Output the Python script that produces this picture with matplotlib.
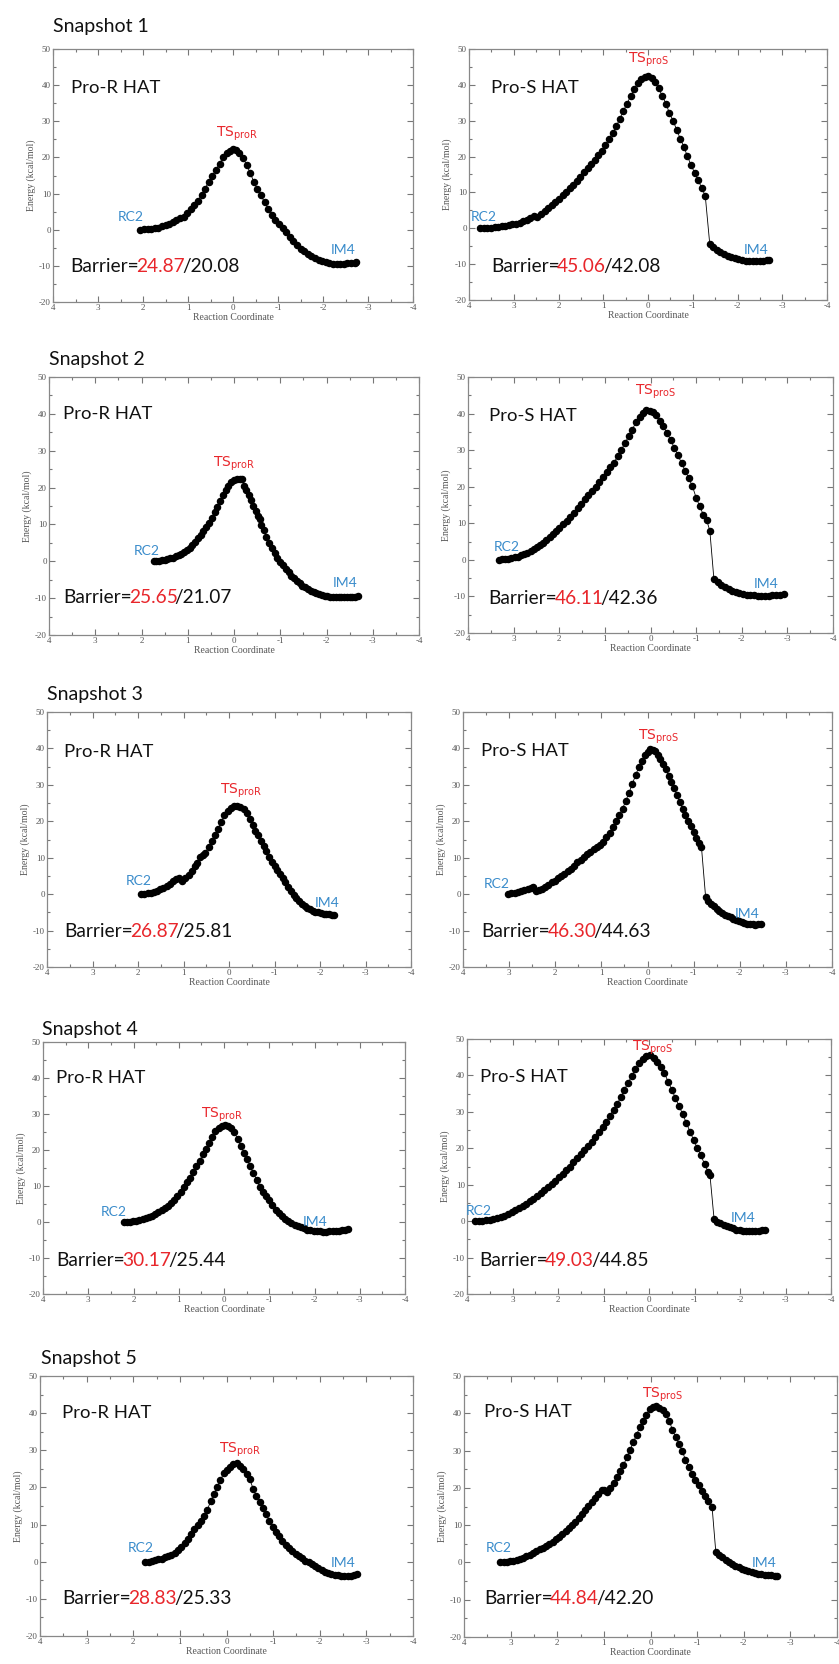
import matplotlib
matplotlib.use("Agg")
import matplotlib.pyplot as plt
from matplotlib.ticker import MultipleLocator

W, H = 839, 1664
plt.rcParams['axes.unicode_minus'] = False
plt.rcParams['mathtext.fontset'] = 'custom'
plt.rcParams['mathtext.rm'] = 'Lato'
plt.rcParams['mathtext.default'] = 'rm'

LABEL_FONT = 'Lato'
AXIS_FONT = 'Liberation Serif'
RED = '#e8262b'
BLUE = '#3a8ccb'
GREY = '#555555'

# ---------------- energy profiles (reaction coordinate, kcal/mol) ----------------
s1_r_x = [2.07, 1.98, 1.9, 1.82, 1.74, 1.66, 1.58, 1.5, 1.42, 1.34, 1.26, 1.18, 1.1, 1.02, 0.94, 0.86,
          0.78, 0.7, 0.62, 0.54, 0.46, 0.38, 0.3, 0.22, 0.14, 0.06, 0.0, -0.06, -0.14, -0.22, -0.3,
          -0.38, -0.46, -0.54, -0.62, -0.7, -0.78, -0.86, -0.94, -1.02, -1.1, -1.18, -1.26, -1.34,
          -1.42, -1.5, -1.58, -1.66, -1.74, -1.82, -1.9, -1.98, -2.06, -2.14, -2.22, -2.3, -2.38,
          -2.46, -2.54, -2.62, -2.7, -2.74]
s1_r_y = [0, 0.1, 0.2, 0.3, 0.5, 0.6, 0.9, 1.2, 1.6, 2.1, 2.6, 3.2, 3.5, 4.5, 5.8, 6.9,
          7.9, 9.7, 11.4, 13.3, 14.9, 16.5, 18.3, 20.0, 21.1, 21.9, 22.2, 22.0, 21.3, 19.9, 18.0,
          15.8, 13.3, 11.2, 9.5, 7.6, 5.8, 4.2, 2.8, 1.6, 0.4, -0.6, -2.0, -3.2,
          -4.3, -5.2, -6.0, -6.7, -7.3, -7.9, -8.3, -8.7, -9.0, -9.2, -9.4, -9.4, -9.4,
          -9.35, -9.3, -9.2, -9.1, -9.0]

s1_s_x = [3.75, 3.67, 3.59, 3.51, 3.43, 3.35, 3.27, 3.19, 3.11, 3.03, 2.95, 2.87, 2.79, 2.71, 2.63,
          2.55, 2.47, 2.39, 2.31, 2.23, 2.15, 2.07, 1.99, 1.91, 1.83, 1.75, 1.67, 1.59, 1.51, 1.43,
          1.35, 1.27, 1.19, 1.11, 1.03, 0.95, 0.87, 0.79, 0.71, 0.63, 0.55, 0.47, 0.39, 0.31, 0.23,
          0.15, 0.07, 0.0, -0.08, -0.16, -0.24, -0.32, -0.4, -0.48, -0.56, -0.64, -0.72, -0.8, -0.88,
          -0.96, -1.04, -1.12, -1.2, -1.28, -1.38, -1.46, -1.54, -1.62, -1.7, -1.78, -1.86, -1.94,
          -2.02, -2.1, -2.18, -2.26, -2.34, -2.42, -2.5, -2.58, -2.66, -2.71]
s1_s_y = [0, 0.05, 0.1, 0.2, 0.3, 0.4, 0.5, 0.7, 0.9, 1.1, 1.3, 1.6, 2.0, 2.4, 3.0,
          3.3, 3.2, 4.0, 4.8, 5.6, 6.5, 7.4, 8.3, 9.2, 10.2, 11.2, 12.2, 13.3, 14.4, 15.6,
          16.8, 17.9, 19.1, 20.4, 21.6, 23.2, 24.9, 26.6, 28.4, 30.6, 32.7, 34.8, 36.8, 38.8, 40.5,
          41.5, 42.2, 42.4, 41.8, 40.8, 39.0, 36.9, 34.8, 32.1, 30.0, 27.5, 25.0, 22.8, 20.1,
          17.7, 15.5, 13.4, 11.3, 9.0, -4.4, -5.3, -6.1, -6.7, -7.2, -7.7, -8.1, -8.4,
          -8.7, -8.9, -9.0, -9.1, -9.1, -9.1, -9.1, -9.0, -8.9, -8.8]

s2_r_x = [1.74, 1.68, 1.62, 1.56, 1.5, 1.44, 1.38, 1.32, 1.26, 1.2, 1.14, 1.08, 1.02, 0.96, 0.9,
          0.84, 0.78, 0.72, 0.66, 0.6, 0.54, 0.48, 0.42, 0.36, 0.3, 0.24, 0.18, 0.12, 0.06, 0.0,
          -0.06, -0.12, -0.18, -0.22, -0.27, -0.32, -0.37, -0.42, -0.47, -0.52, -0.56, -0.59, -0.64,
          -0.7, -0.76, -0.82, -0.88, -0.94, -1.0, -1.06, -1.12, -1.18, -1.24, -1.3, -1.36, -1.42,
          -1.48, -1.54, -1.6, -1.66, -1.72, -1.78, -1.84, -1.9, -1.96, -2.02, -2.08, -2.14, -2.2,
          -2.26, -2.32, -2.38, -2.44, -2.5, -2.56, -2.62, -2.68]
s2_r_y = [0, 0.05, 0.15, 0.25, 0.4, 0.6, 0.8, 1.0, 1.3, 1.7, 2.1, 2.5, 3.0, 3.7, 4.5,
          5.3, 6.2, 7.2, 8.2, 9.2, 10.5, 11.8, 13.3, 14.7, 16.3, 17.9, 19.3, 20.5, 21.4, 22.0,
          22.3, 22.4, 22.4, 20.4, 19.3, 18.0, 16.5, 15.1, 13.7, 12.3, 11.5, 9.8, 8.4,
          6.6, 5.0, 3.6, 2.3, 1.0, -0.1, -1.1, -2.1, -3.0, -3.9, -4.6, -5.3, -6.0,
          -6.6, -7.1, -7.6, -8.0, -8.4, -8.7, -9.0, -9.2, -9.4, -9.5, -9.6, -9.7, -9.75,
          -9.8, -9.8, -9.8, -9.8, -9.75, -9.7, -9.6, -9.5]

s2_s_x = [3.33, 3.26, 3.19, 3.12, 3.05, 2.98, 2.91, 2.84, 2.77, 2.7, 2.63, 2.56, 2.49, 2.42, 2.35,
          2.28, 2.21, 2.14, 2.07, 2.0, 1.92, 1.84, 1.76, 1.68, 1.6, 1.52, 1.44, 1.36, 1.28, 1.2,
          1.12, 1.04, 0.96, 0.88, 0.8, 0.72, 0.64, 0.56, 0.48, 0.4, 0.32, 0.24, 0.16, 0.09, 0.02,
          -0.05, -0.12, -0.2, -0.28, -0.36, -0.44, -0.52, -0.6, -0.68, -0.76, -0.84, -0.92, -1.0,
          -1.08, -1.16, -1.23, -1.3, -1.39, -1.47, -1.55, -1.63, -1.71, -1.79, -1.87, -1.95, -2.03,
          -2.11, -2.19, -2.27, -2.35, -2.43, -2.51, -2.59, -2.67, -2.75, -2.83, -2.92]
s2_s_y = [0, 0.1, 0.2, 0.3, 0.5, 0.7, 0.9, 1.2, 1.6, 2.0, 2.4, 2.9, 3.4, 4.0, 4.7,
          5.4, 6.2, 7.0, 7.9, 8.8, 9.7, 10.7, 11.7, 12.9, 14.1, 15.4, 16.6, 17.7, 18.8, 20.0,
          21.3, 22.6, 24.0, 25.3, 26.6, 28.3, 30.1, 31.9, 33.8, 35.6, 37.6, 39.0, 40.1, 41.1, 40.8,
          40.3, 39.6, 38.1, 36.5, 34.7, 32.8, 30.7, 28.6, 26.5, 24.4, 22.3, 20.1, 17.0,
          14.6, 12.3, 10.9, 8.0, -5.3, -6.1, -6.9, -7.5, -8.0, -8.4, -8.8, -9.1, -9.3,
          -9.5, -9.6, -9.7, -9.8, -9.8, -9.8, -9.8, -9.7, -9.6, -9.5, -9.3]

s3_r_x = [1.93, 1.86, 1.79, 1.72, 1.65, 1.58, 1.51, 1.44, 1.37, 1.3, 1.23, 1.16, 1.1, 1.03, 0.96,
          0.89, 0.82, 0.75, 0.7, 0.64, 0.57, 0.52, 0.45, 0.38, 0.31, 0.24, 0.17, 0.1, 0.03, -0.04,
          -0.11, -0.18, -0.25, -0.32, -0.39, -0.46, -0.52, -0.58, -0.64, -0.7, -0.76, -0.82, -0.88,
          -0.94, -1.0, -1.06, -1.12, -1.18, -1.24, -1.3, -1.36, -1.42, -1.48, -1.54, -1.6, -1.66,
          -1.72, -1.78, -1.84, -1.9, -1.96, -2.02, -2.08, -2.14, -2.2, -2.26, -2.3]
s3_r_y = [0, 0.05, 0.2, 0.4, 0.7, 1.0, 1.4, 1.8, 2.3, 2.9, 3.5, 4.1, 4.3, 3.7, 4.5,
          5.3, 6.4, 7.6, 8.6, 10.3, 10.8, 11.3, 12.9, 14.6, 16.2, 18.0, 19.9, 21.6, 22.8, 23.6,
          24.1, 24.2, 23.9, 23.4, 22.4, 20.5, 19.0, 17.4, 16.1, 14.6, 13.2, 11.8, 10.2,
          8.9, 7.6, 6.5, 5.4, 4.3, 3.2, 2.0, 0.9, -0.2, -1.1, -2.0, -2.7, -3.3,
          -3.8, -4.2, -4.5, -4.8, -5.0, -5.2, -5.35, -5.5, -5.55, -5.6, -5.7]

s3_s_x = [3.02, 2.95, 2.88, 2.81, 2.74, 2.67, 2.6, 2.53, 2.48, 2.42, 2.36, 2.29, 2.22, 2.15, 2.08,
          2.01, 1.94, 1.87, 1.8, 1.73, 1.66, 1.59, 1.52, 1.45, 1.38, 1.31, 1.24, 1.17, 1.1, 1.03,
          0.96, 0.89, 0.82, 0.75, 0.68, 0.61, 0.54, 0.47, 0.4, 0.33, 0.26, 0.19, 0.12, 0.05, 0.0,
          -0.05, -0.11, -0.16, -0.22, -0.28, -0.34, -0.4, -0.46, -0.52, -0.58, -0.64, -0.7, -0.76,
          -0.82, -0.88, -0.94, -1.0, -1.06, -1.12, -1.17, -1.26, -1.32, -1.38, -1.44, -1.5, -1.56,
          -1.62, -1.68, -1.74, -1.8, -1.86, -1.92, -1.98, -2.04, -2.1, -2.16, -2.22, -2.28, -2.34,
          -2.4, -2.47]
s3_s_y = [0, 0.2, 0.4, 0.7, 0.9, 1.2, 1.5, 1.8, 2.0, 0.8, 1.1, 1.5, 2.0, 2.5, 3.2,
          3.7, 4.3, 4.9, 5.6, 6.3, 7.0, 7.8, 8.7, 9.4, 10.1, 10.9, 11.6, 12.3, 12.9, 13.5,
          14.4, 15.7, 16.9, 18.4, 20.0, 21.7, 23.5, 25.6, 27.9, 30.2, 32.6, 34.8, 36.6, 38.3, 39.0,
          39.8, 39.6, 39.2, 38.2, 37.1, 35.7, 34.3, 32.3, 30.7, 29.1, 27.1, 25.2, 23.4,
          21.8, 20.1, 18.6, 17.0, 15.4, 14.1, 12.9, -0.8, -1.8, -2.6, -3.3, -4.0, -4.6,
          -5.1, -5.6, -6.0, -6.4, -6.8, -7.1, -7.4, -7.7, -7.9, -8.1, -8.2, -8.3, -8.35,
          -8.3, -8.2]

s4_r_x = [2.22, 2.15, 2.08, 2.01, 1.94, 1.87, 1.8, 1.73, 1.66, 1.59, 1.52, 1.45, 1.38, 1.31, 1.24,
          1.17, 1.1, 1.03, 0.96, 0.89, 0.82, 0.75, 0.68, 0.61, 0.54, 0.47, 0.4, 0.33, 0.26, 0.19,
          0.12, 0.05, -0.02, -0.09, -0.16, -0.23, -0.3, -0.37, -0.44, -0.51, -0.58, -0.65, -0.72,
          -0.79, -0.86, -0.93, -1.0, -1.07, -1.14, -1.21, -1.28, -1.35, -1.42, -1.49, -1.56, -1.63,
          -1.7, -1.77, -1.84, -1.91, -1.98, -2.05, -2.12, -2.19, -2.26, -2.33, -2.4, -2.47, -2.54,
          -2.61, -2.68, -2.74]
s4_r_y = [0, 0.05, 0.1, 0.25, 0.4, 0.6, 0.8, 1.1, 1.4, 1.8, 2.2, 2.7, 3.2, 3.8, 4.5,
          5.3, 6.2, 7.3, 8.4, 9.7, 11.0, 12.3, 14.0, 15.5, 17.0, 18.8, 20.4, 22.0, 23.7, 25.2,
          26.2, 26.8, 27.0, 26.7, 26.0, 24.9, 23.1, 21.2, 19.3, 17.4, 15.5, 13.6, 11.7,
          9.8, 8.3, 7.2, 6.0, 4.6, 3.4, 2.4, 1.6, 0.9, 0.3, -0.2, -0.7, -1.1,
          -1.5, -1.8, -2.1, -2.3, -2.45, -2.55, -2.6, -2.65, -2.65, -2.6, -2.6, -2.5, -2.4,
          -2.2, -2.1, -1.9]

s4_s_x = [3.82, 3.74, 3.66, 3.58, 3.5, 3.42, 3.34, 3.26, 3.18, 3.1, 3.02, 2.94, 2.86, 2.78, 2.7,
          2.62, 2.54, 2.46, 2.38, 2.3, 2.22, 2.14, 2.06, 1.98, 1.9, 1.82, 1.74, 1.66, 1.58, 1.5,
          1.42, 1.34, 1.26, 1.18, 1.1, 1.02, 0.94, 0.86, 0.78, 0.7, 0.62, 0.54, 0.46, 0.38, 0.3,
          0.22, 0.14, 0.06, -0.02, -0.1, -0.18, -0.26, -0.34, -0.42, -0.5, -0.58, -0.66, -0.74,
          -0.82, -0.9, -0.98, -1.06, -1.14, -1.22, -1.3, -1.34, -1.43, -1.5, -1.57, -1.64, -1.71,
          -1.78, -1.85, -1.92, -1.99, -2.06, -2.13, -2.2, -2.27, -2.34, -2.41, -2.48, -2.55]
s4_s_y = [0, 0.05, 0.1, 0.2, 0.35, 0.5, 0.8, 1.1, 1.5, 1.9, 2.4, 3.0, 3.6, 4.2, 4.8,
          5.5, 6.2, 6.9, 7.7, 8.5, 9.3, 10.2, 11.1, 12.1, 13.0, 14.0, 15.0, 16.1, 17.2, 18.3,
          19.4, 20.6, 21.8, 23.0, 24.4, 25.8, 27.3, 28.9, 30.6, 32.2, 34.0, 36.1, 38.0, 39.8, 41.9,
          43.3, 44.6, 45.3, 45.5, 44.9, 43.6, 42.2, 40.6, 38.3, 36.1, 33.8, 31.6, 29.4,
          27.0, 24.6, 22.3, 20.1, 18.1, 15.7, 13.6, 12.6, 0.6, -0.1, -0.6, -1.0, -1.4,
          -1.7, -2.0, -2.3, -2.5, -2.6, -2.7, -2.7, -2.7, -2.7, -2.6, -2.5, -2.3]

s5_r_x = [1.74, 1.67, 1.6, 1.53, 1.46, 1.39, 1.32, 1.25, 1.18, 1.11, 1.04, 0.97, 0.9, 0.83, 0.76,
          0.69, 0.62, 0.55, 0.48, 0.41, 0.34, 0.27, 0.2, 0.13, 0.06, -0.01, -0.08, -0.15, -0.22,
          -0.29, -0.36, -0.43, -0.5, -0.57, -0.64, -0.71, -0.78, -0.85, -0.92, -0.99, -1.06, -1.13,
          -1.2, -1.27, -1.34, -1.41, -1.48, -1.55, -1.62, -1.69, -1.76, -1.83, -1.9, -1.97, -2.04,
          -2.11, -2.18, -2.25, -2.32, -2.39, -2.46, -2.53, -2.6, -2.67, -2.74, -2.8]
s5_r_y = [0, 0.05, 0.2, 0.4, 0.6, 0.8, 1.2, 1.5, 1.9, 2.4, 3.1, 4.0, 5.0, 6.1, 7.4,
          8.7, 10.0, 11.0, 12.3, 14.0, 16.3, 18.3, 20.2, 22.0, 23.8, 24.8, 25.6, 26.3, 26.5,
          25.9, 25.0, 23.7, 22.2, 19.7, 17.8, 16.0, 14.4, 12.8, 11.0, 9.4, 8.1, 6.9,
          5.7, 4.6, 3.7, 2.9, 2.2, 1.5, 0.9, 0.3, -0.2, -0.7, -1.2, -1.8, -2.3,
          -2.7, -3.0, -3.3, -3.5, -3.7, -3.8, -3.85, -3.85, -3.8, -3.6, -3.4]

s5_s_x = [3.22, 3.15, 3.08, 3.01, 2.94, 2.87, 2.8, 2.73, 2.66, 2.59, 2.52, 2.45, 2.38, 2.31, 2.24,
          2.17, 2.1, 2.03, 1.96, 1.89, 1.82, 1.75, 1.68, 1.61, 1.54, 1.47, 1.4, 1.33, 1.26, 1.19,
          1.12, 1.05, 1.0, 0.93, 0.86, 0.79, 0.72, 0.65, 0.58, 0.51, 0.44, 0.37, 0.3, 0.23, 0.16,
          0.09, 0.02, -0.05, -0.12, -0.19, -0.26, -0.33, -0.4, -0.47, -0.54, -0.61, -0.68, -0.75,
          -0.82, -0.89, -0.96, -1.03, -1.1, -1.17, -1.24, -1.32, -1.4, -1.47, -1.54, -1.61, -1.68,
          -1.75, -1.82, -1.89, -1.96, -2.03, -2.1, -2.17, -2.24, -2.31, -2.38, -2.45, -2.52, -2.59,
          -2.66, -2.71]
s5_s_y = [0, 0.05, 0.2, 0.3, 0.5, 0.7, 1.0, 1.3, 1.7, 2.1, 2.6, 3.0, 3.5, 4.0, 4.5,
          5.0, 5.6, 6.2, 6.9, 7.6, 8.4, 9.2, 10.0, 10.9, 11.9, 13.0, 14.0, 15.1, 16.2, 17.3,
          18.3, 19.4, 19.5, 18.8, 19.9, 21.4, 22.8, 24.4, 26.0, 28.2, 30.2, 32.2, 34.2, 36.3, 38.0,
          39.6, 41.1, 41.7, 41.9, 41.5, 40.8, 39.8, 38.0, 35.6, 33.6, 31.8, 29.8, 27.6,
          25.6, 23.8, 22.2, 20.8, 19.2, 17.9, 16.6, 15.0, 2.9, 2.1, 1.4, 0.7, 0.1,
          -0.5, -0.9, -1.3, -1.7, -2.1, -2.4, -2.7, -2.9, -3.1, -3.2, -3.3, -3.4, -3.5,
          -3.55, -3.6]

# barrier heights: first value in red, second value in black
barrier_first = [24.87, 45.06, 25.65, 46.11, 26.87, 46.30, 30.17, 49.03, 28.83, 44.84]
barrier_second = [20.08, 42.08, 21.07, 42.36, 25.81, 44.63, 25.44, 44.85, 25.33, 42.20]

snapshot_titles = ['Snapshot 1', 'Snapshot 2', 'Snapshot 3', 'Snapshot 4', 'Snapshot 5']
pathway_names = ['Pro-R HAT', 'Pro-S HAT']
ts_labels = [r'TS$_{\mathregular{proR}}$', r'TS$_{\mathregular{proS}}$']
x_ticks = [4, 3, 2, 1, 0, -1, -2, -3, -4]
y_ticks = [-20, -10, 0, 10, 20, 30, 40, 50]

curves = [(s1_r_x, s1_r_y), (s1_s_x, s1_s_y), (s2_r_x, s2_r_y), (s2_s_x, s2_s_y),
          (s3_r_x, s3_r_y), (s3_s_x, s3_s_y), (s4_r_x, s4_r_y), (s4_s_x, s4_s_y),
          (s5_r_x, s5_r_y), (s5_s_x, s5_s_y)]

# ---------------- layout (pixel boxes: left, top, right, bottom) ----------------
boxes = [(53, 49, 413, 302), (469, 49, 827, 300),
         (49, 377, 419, 635), (468, 377, 833, 633),
         (47, 712, 411, 967), (463, 712, 832, 967),
         (43, 1042, 405, 1294), (467, 1039, 831, 1294),
         (40, 1376, 413, 1636), (464, 1376, 837, 1637)]
title_pos = [(53, 32), (49, 365), (47, 700), (42, 1035), (41, 1364)]

# text anchors in data units: name, barrier, TS, RC2, IM4
text_pos = [
    dict(name=(3.61, 37.9), bar=(3.61, -11.7), ts=(-0.08, 25.7), rc=(2.28, 2.4), im=(-2.44, -6.7)),
    dict(name=(3.5, 37.7), bar=(3.5, -12.3), ts=(-0.02, 46.1), rc=(3.66, 2.1), im=(-2.41, -7.2)),
    dict(name=(3.7, 38.6), bar=(3.7, -11.3), ts=(-0.01, 25.6), rc=(1.89, 1.6), im=(-2.41, -7.0)),
    dict(name=(3.55, 37.9), bar=(3.55, -12.0), ts=(-0.12, 45.2), rc=(3.14, 2.4), im=(-2.53, -7.7)),
    dict(name=(3.63, 37.7), bar=(3.63, -11.8), ts=(-0.27, 27.6), rc=(1.98, 2.4), im=(-2.15, -3.4)),
    dict(name=(3.6, 37.8), bar=(3.6, -11.8), ts=(-0.23, 42.4), rc=(3.26, 1.6), im=(-2.16, -6.6)),
    dict(name=(3.71, 38.7), bar=(3.71, -12.1), ts=(0.04, 28.8), rc=(2.43, 1.6), im=(-2.01, -1.0)),
    dict(name=(3.72, 38.2), bar=(3.74, -12.2), ts=(-0.07, 46.8), rc=(3.74, 1.8), im=(-2.06, -0.2)),
    dict(name=(3.52, 38.8), bar=(3.52, -11.4), ts=(-0.29, 29.3), rc=(1.83, 2.5), im=(-2.5, -1.3)),
    dict(name=(3.57, 38.9), bar=(3.57, -11.1), ts=(-0.25, 44.0), rc=(3.26, 2.7), im=(-2.44, -1.1)),
]

fig = plt.figure(figsize=(W / 100, H / 100), dpi=100)

for i, title in enumerate(snapshot_titles):
    tx, ty = title_pos[i]
    fig.text(tx / W, 1 - ty / H, title, fontsize=14, family=LABEL_FONT,
             ha='left', va='baseline', color='#111111')

for k, ((cx, cy), (l, t, r, b), tp) in enumerate(zip(curves, boxes, text_pos)):
    ax = fig.add_axes([l / W, 1 - b / H, (r - l) / W, (b - t) / H])
    ax.plot(cx, cy, color='black', lw=0.6, marker='o', ms=4.4, mec='black', mfc='black')
    ax.set_xlim(4, -4)
    ax.set_ylim(-20, 50)
    ax.set_xticks(x_ticks)
    ax.set_yticks(y_ticks)
    ax.xaxis.set_minor_locator(MultipleLocator(0.5))
    ax.yaxis.set_minor_locator(MultipleLocator(5))
    ax.tick_params(which='both', direction='in', top=True, right=True, color='#777777', width=0.8)
    ax.tick_params(which='major', length=4, pad=1.5, labelsize=6.5, labelcolor=GREY)
    ax.tick_params(which='minor', length=2)
    for lab in ax.get_xticklabels() + ax.get_yticklabels():
        lab.set_family(AXIS_FONT)
    for sp in ax.spines.values():
        sp.set_color('#888888')
        sp.set_linewidth(0.9)
    ax.set_xlabel('Reaction Coordinate', family=AXIS_FONT, fontsize=7, color=GREY, labelpad=0.5)
    ax.set_ylabel('Energy (kcal/mol)', family=AXIS_FONT, fontsize=7, color=GREY, labelpad=2)

    side = k % 2
    ax.text(*tp['name'], pathway_names[side], fontsize=13.3, family=LABEL_FONT,
            ha='left', va='baseline', color='#111111')
    ax.text(*tp['ts'], ts_labels[side], fontsize=10, color=RED, ha='center', va='baseline')
    ax.text(*tp['rc'], 'RC2', fontsize=10, family=LABEL_FONT, color=BLUE, ha='center', va='baseline')
    ax.text(*tp['im'], 'IM4', fontsize=10, family=LABEL_FONT, color=BLUE, ha='center', va='baseline')

    # barrier line: black prefix, red first value, black second value, set end to end
    t1 = ax.text(*tp['bar'], 'Barrier=', fontsize=13.8, family=LABEL_FONT,
                 ha='left', va='baseline', color='#111111')
    t2 = ax.annotate(f'{barrier_first[k]:.2f}', xy=(1, 0), xycoords=t1,
                     xytext=(-2.0, 0), textcoords='offset points', fontsize=13.8,
                     family=LABEL_FONT, ha='left', va='bottom', color=RED)
    ax.annotate(f'/{barrier_second[k]:.2f}', xy=(1, 0), xycoords=t2,
                xytext=(-2.0, 0), textcoords='offset points', fontsize=13.8,
                family=LABEL_FONT, ha='left', va='bottom', color='#111111')

fig.savefig('out.png', dpi=100, facecolor='white')
